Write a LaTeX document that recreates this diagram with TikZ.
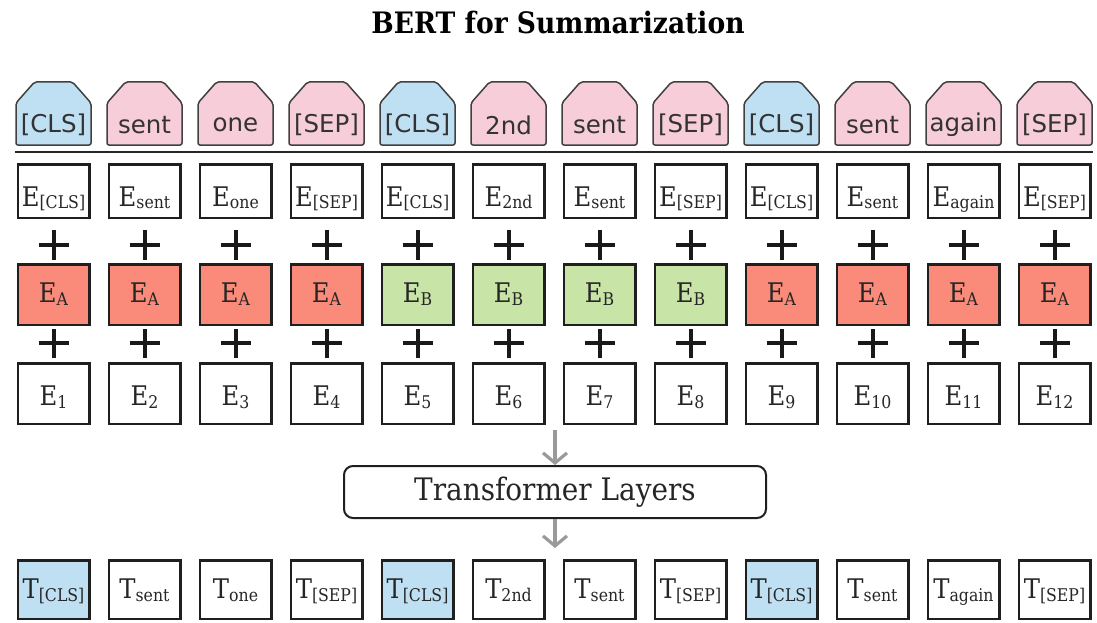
\documentclass[tikz,border=0pt]{standalone}
\usepackage{fontspec}
\setmainfont{DejaVu Serif}[FakeStretch=0.9]
\newfontfamily\tabfont{DejaVu Sans}
\usetikzlibrary{arrows.meta}

\definecolor{clsblue}{HTML}{BFE0F3}
\definecolor{wordpink}{HTML}{F7CDD9}
\definecolor{segred}{HTML}{FA8A79}
\definecolor{seggreen}{HTML}{C8E4A7}
\definecolor{flowgray}{HTML}{9A9A9A}

% embedding label: letter with a lowered small index
\newcommand{\emb}[2]{#1\raisebox{-2.5pt}{\fontsize{17.5}{17.5}\selectfont #2}}

\tikzset{
  embbox/.style={draw=black!88, line width=2.5pt, minimum width=71.5pt, inner sep=0pt,
    text depth=4pt, text=black!85, font=\fontsize{27}{27}\selectfont},
  tabline/.style={draw=black!75, line width=1.5pt, rounded corners=2pt},
  tabtext/.style={inner sep=0pt, text=black!80, font=\tabfont\fontsize{24.5}{24.5}\selectfont},
  plusline/.style={line width=4pt, black!90},
  flowarrow/.style={flowgray, line width=3.2pt, -{Straight Barb[length=10pt,width=24pt]}}
}

\begin{document}
\begin{tikzpicture}[x=1pt,y=-1pt]
  \useasboundingbox (0,0) rectangle (1097,623);

  \node[font=\bfseries\fontsize{29.5}{29.5}\selectfont] (title) at (558,23) {BERT for Summarization};

  \foreach \i/\tok/\col/\seg/\segcol/\tfill in {
    1/{[CLS]}/clsblue/A/segred/clsblue,
    2/sent/wordpink/A/segred/white,
    3/one/wordpink/A/segred/white,
    4/{[SEP]}/wordpink/A/segred/white,
    5/{[CLS]}/clsblue/B/seggreen/clsblue,
    6/2nd/wordpink/B/seggreen/white,
    7/sent/wordpink/B/seggreen/white,
    8/{[SEP]}/wordpink/B/seggreen/white,
    9/{[CLS]}/clsblue/A/segred/clsblue,
    10/sent/wordpink/A/segred/white,
    11/again/wordpink/A/segred/white,
    12/{[SEP]}/wordpink/A/segred/white}{
    \pgfmathsetmacro{\x}{53.5+91*(\i-1)}
    % input token tab
    \draw[tabline, fill=\col] (\x-37.5,145) -- (\x-37.5,103) -- (\x-19,82)
      -- (\x+19,82) -- (\x+37.5,103) -- (\x+37.5,145) -- cycle;
    \node[tabtext] (tok\i) at (\x,125) {\tok};
    % embeddings
    \node[embbox, minimum height=53.5pt, text height=34pt] (tokemb\i) at (\x,191) {\emb{E}{\tok}};
    \node[embbox, minimum height=60.5pt, text height=20pt, fill=\segcol] (segemb\i) at (\x,294.5) {\emb{E}{\seg}};
    \node[embbox, minimum height=60.5pt, text height=28pt] (posemb\i) at (\x,393.5) {\emb{E}{\i}};
    % outputs
    \node[embbox, minimum height=58.5pt, text height=22pt, fill=\tfill] (out\i) at (\x,589.5) {\emb{T}{\tok}};
    % plus signs
    \draw[plusline] (\x-15,245) -- (\x+15,245) (\x,230) -- (\x,260);
    \draw[plusline] (\x-15,343) -- (\x+15,343) (\x,329) -- (\x,358);
  }

  \draw[line width=2.5pt, black!85] (15,152) -- (1093,152);

  \node[draw=black!88, line width=2pt, rounded corners=9pt, minimum width=422pt,
    minimum height=52pt, text=black!85, font=\fontsize{31}{31}\selectfont] (tf) at (555,492) {Transformer Layers};

  \coordinate (into) at (555,430);
  \coordinate (outof) at (555,548);
  \draw[flowarrow] (into) -- (tf.north);
  \draw[flowarrow] (tf.south) -- (outof);
\end{tikzpicture}
\end{document}
